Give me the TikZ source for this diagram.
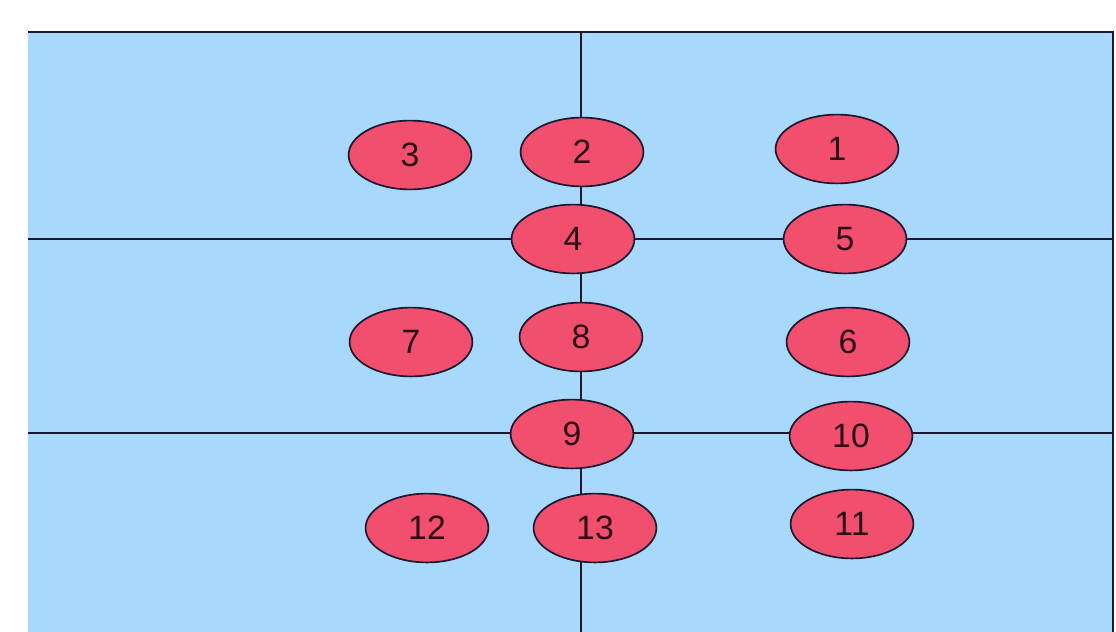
\documentclass[tikz,border=0pt]{standalone}
\usepackage{fontspec}
\setmainfont{Liberation Sans}
\usetikzlibrary{shapes.geometric}

\definecolor{paneblue}{HTML}{A8D8FC}
\definecolor{blobred}{HTML}{F24E6E}
\definecolor{inkdark}{HTML}{1C1830}
\definecolor{digitdark}{HTML}{2A0E16}

\begin{document}
\begin{tikzpicture}[
  x=0.025cm, y=-0.025cm,
  divider/.style={draw=inkdark, line width=1.3pt},
  blob/.style={
    ellipse,
    draw=inkdark,
    line width=1.2pt,
    fill=blobred,
    inner sep=0pt,
    minimum width=3.07cm,
    minimum height=1.72cm,
    text=digitdark,
    font=\fontsize{24}{28}\selectfont
  }
]

% -------------------------------------------------
% Page frame
% -------------------------------------------------
\useasboundingbox (0,0) rectangle (1116,631);
\clip (0,0) rectangle (1116,631);

\coordinate (tl) at (28,32);
\coordinate (br) at (1113,660);
\fill[paneblue] (tl) rectangle (br);
\draw[divider] (tl) -- (br |- tl) -- (br);

% -------------------------------------------------
% Dividing lines
% -------------------------------------------------
\coordinate (vtop) at (581,32);
\coordinate (vbot) at (581,660);
\coordinate (h1l) at (28,239);
\coordinate (h1r) at (1113,239);
\coordinate (h2l) at (28,433);
\coordinate (h2r) at (1113,433);

\draw[divider] (vtop) -- (vbot);
\draw[divider] (h1l) -- (h1r);
\draw[divider] (h2l) -- (h2r);

% -------------------------------------------------
% Numbered blobs
% -------------------------------------------------
\node[blob] (n1) at (837,149) {1};
\node[blob] (n2) at (582,152) {2};
\node[blob] (n3) at (410,155) {3};
\node[blob] (n4) at (573,239) {4};
\node[blob] (n5) at (845,239) {5};
\node[blob] (n6) at (848,342) {6};
\node[blob] (n7) at (411,342) {7};
\node[blob] (n8) at (581,337) {8};
\node[blob] (n9) at (572,434) {9};
\node[blob] (n10) at (851,436) {10};
\node[blob] (n11) at (852,524) {11};
\node[blob] (n12) at (427,528) {12};
\node[blob] (n13) at (595,528) {13};

\end{tikzpicture}
\end{document}
